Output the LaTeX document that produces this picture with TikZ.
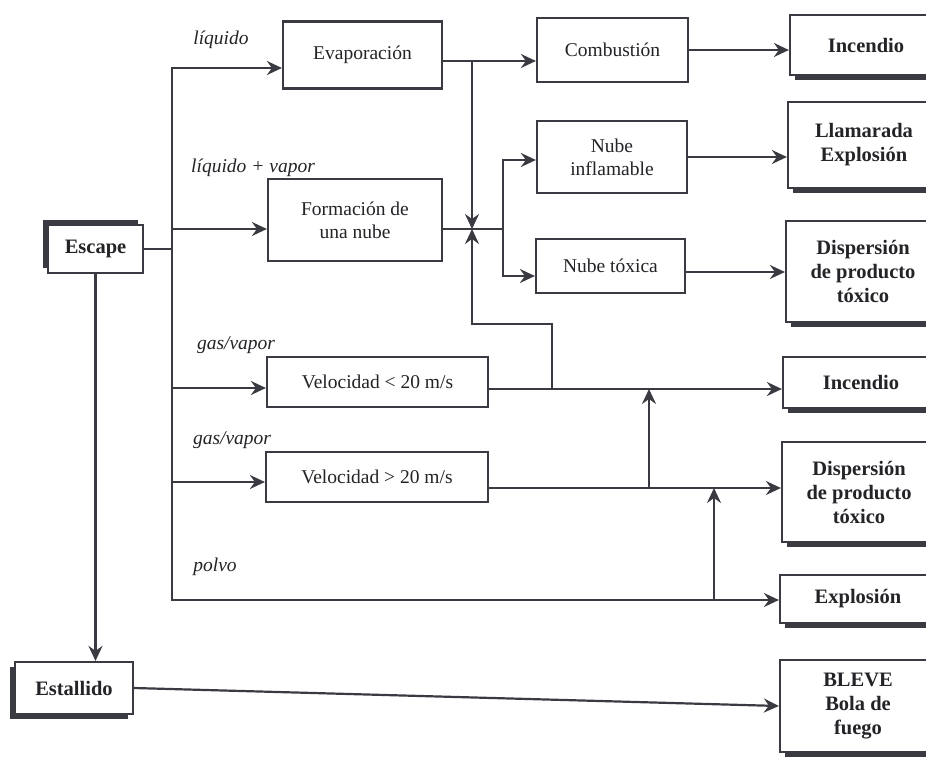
\documentclass[tikz,border=0pt]{standalone}
\usepackage{fontspec}
\setmainfont{Liberation Serif}
\usetikzlibrary{arrows.meta,shadows}
\definecolor{ink}{RGB}{58,58,66}
\definecolor{txt}{RGB}{35,35,40}
\begin{document}
\begin{tikzpicture}[x=1pt,y=-1pt,
  lw/.style={line width=2.2pt, draw=ink},
  box/.style={lw, fill=white, rectangle, inner sep=0pt, align=center, text=txt, font=\fontsize{19.5}{23}\selectfont},
  bbox/.style={box, font=\fontsize{20.5}{24}\selectfont\bfseries},
  shR/.style={general shadow={fill=ink, shadow xshift=5pt, shadow yshift=-5pt}},
  shTL/.style={general shadow={fill=ink, shadow xshift=-5pt, shadow yshift=5pt}},
  shBL/.style={general shadow={fill=ink, shadow xshift=-5pt, shadow yshift=-5pt}},
  conn/.style={lw, line cap=rect},
  arr/.style={lw, -{Stealth[length=15pt,width=14pt,inset=5pt]}},
  lab/.style={font=\fontsize{19.5}{23}\selectfont\itshape, text=txt, inner sep=0pt}
]
\useasboundingbox (0,0) rectangle (926,760);
\clip (0,0) rectangle (926,760);
\fill[white] (0,0) rectangle (926,760);

% left column
\node[bbox, shTL, minimum width=95pt, minimum height=48pt] (esc) at (95.5,249) {Escape};
\node[bbox, shBL, minimum width=118pt, minimum height=52pt] (est) at (74,688) {Estallido};

% second column
\node[box, minimum width=159pt, minimum height=67pt] (evap) at (362.5,55) {Evaporación};
\node[box, minimum width=174pt, minimum height=82pt] (form) at (355,220) {Formación de\\una nube};
\node[box, minimum width=221pt, minimum height=50pt] (velL) at (377.5,382) {Velocidad < 20 m/s};
\node[box, minimum width=222pt, minimum height=50pt] (velG) at (377,477) {Velocidad > 20 m/s};

% third column
\node[box, minimum width=151pt, minimum height=64pt] (comb) at (612.5,50) {Combustión};
\node[box, minimum width=150pt, minimum height=72pt] (nubeI) at (612,157) {Nube\\inflamable};
\node[box, minimum width=149pt, minimum height=54pt] (nubeT) at (610.5,266) {Nube tóxica};

% right column
\node[bbox, shR, minimum width=152pt, minimum height=60pt] (inc1) at (866,45) {Incendio};
\node[bbox, shR, minimum width=152pt, minimum height=86pt] (llam) at (864,145) {Llamarada\\Explosión};
\node[bbox, shR, minimum width=154pt, minimum height=101pt] (disp1) at (863,271.5) {Dispersión\\de producto\\tóxico};
\node[bbox, shR, minimum width=156pt, minimum height=51pt] (inc2) at (861,382.5) {Incendio};
\node[bbox, shR, minimum width=154pt, minimum height=100pt] (disp2) at (859,492) {Dispersión\\de producto\\tóxico};
\node[bbox, shR, minimum width=156pt, minimum height=48pt] (expl) at (858,599) {Explosión};
\node[bbox, shR, minimum width=156pt, minimum height=92pt] (bleve) at (858,706) {BLEVE\\Bola de\\fuego};

% labels
\node[lab] (l1) at (221,40) {líquido};
\node[lab] (l2) at (253,168) {líquido + vapor};
\node[lab] (l3) at (236,345) {gas/vapor};
\node[lab] (l4) at (232,440) {gas/vapor};
\node[lab] (l5) at (215,567) {polvo};

% trunk coordinates
\coordinate (t1) at (172,68);
\coordinate (t2) at (172,229);
\coordinate (t3) at (172,388);
\coordinate (t4) at (172,482);
\coordinate (t5) at (172,600);

\draw[conn] (esc.east) -- (esc.east -| t1);
\draw[conn] (t1) -- (t5);
\draw[arr] (t1) -- (t1 -| evap.west);
\draw[arr] (t2) -- (t2 -| form.west);
\draw[arr] (t3) -- (t3 -| velL.west);
\draw[arr] (t4) -- (t4 -| velG.west);
\draw[arr] (t5) -- (t5 -| expl.west);
\draw[arr] (esc.south) -- (esc.south |- est.north);
\draw[arr] (est.east) -- (bleve.west);

% evaporation / cloud junction
\coordinate (j1) at (472,61);
\coordinate (jx) at (472,229);
\coordinate (j2) at (472,324);
\coordinate (j3) at (552,324);
\coordinate (j4) at (552,389);
\draw[arr] (evap.east |- j1) -- (j1 -| comb.west);
\draw[arr] (j1) -- (jx);
\draw[conn] (j4) -- (j3) -- (j2);
\draw[arr] (j2) -- (jx);

\coordinate (s1) at (503,229);
\coordinate (s2) at (503,160);
\coordinate (s3) at (503,276);
\draw[conn] (form.east |- s1) -- (s1);
\draw[conn] (s2) -- (s3);
\draw[arr] (s2) -- (s2 -| nubeI.west);
\draw[arr] (s3) -- (s3 -| nubeT.west);

\draw[arr] (comb.east) -- (comb.east -| inc1.west);
\draw[arr] (nubeI.east) -- (nubeI.east -| llam.west);
\coordinate (n1) at (nubeT.east |- 0,272);
\draw[arr] (n1) -- (n1 -| disp1.west);

% gas branches
\coordinate (g1) at (velL.east |- 0,389);
\coordinate (g2) at (velG.east |- 0,488);
\draw[arr] (g1) -- (g1 -| inc2.west);
\draw[arr] (g2) -- (g2 -| disp2.west);
\coordinate (v1) at (649,488);
\coordinate (v2) at (714,600);
\draw[arr] (v1) -- (v1 |- g1);
\draw[arr] (v2) -- (v2 |- g2);
\end{tikzpicture}
\end{document}
